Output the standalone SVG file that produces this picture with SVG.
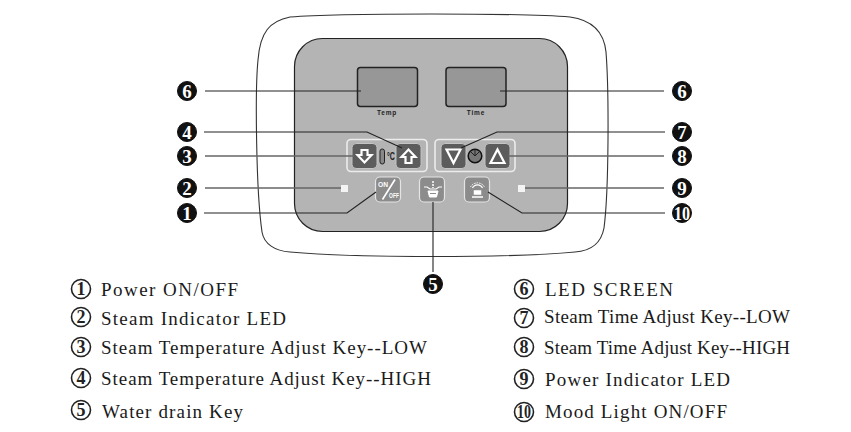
<svg xmlns="http://www.w3.org/2000/svg" width="851" height="432" viewBox="0 0 851 432">
<style>
text{font-family:"Liberation Serif",serif}
.lbl{font-size:19px;fill:#1a1a1a}
.hd{fill:#111;stroke:#111}
.hn{font-size:19px;font-weight:bold;fill:#fff;text-anchor:middle}
.cc{fill:#fff;stroke:#222;stroke-width:1.6}
.cn{font-size:18px;font-weight:bold;fill:#222;text-anchor:middle}
.grp{fill:none;stroke:#ececec;stroke-width:1.6}
.key{fill:#5c5c5c;stroke:#c4c4c4;stroke-width:1}
.skey{fill:#8c8c8c;stroke:#e4e4e4;stroke-width:1.2}
.ic{fill:none;stroke:#fff;stroke-width:2.200}
.scr{fill:#979797;stroke:#222;stroke-width:1.500}
.cap{font-family:"Liberation Sans",sans-serif;font-size:6.500px;font-weight:bold;fill:#222;text-anchor:middle;letter-spacing:.8px}
.k{fill:none;stroke:#222;stroke-width:1.100}
.g{fill:none;stroke:#666;stroke-width:1.600}
.led{fill:#f4f4f4}
.sm{font-family:"Liberation Sans",sans-serif;font-weight:bold;fill:#fff;text-anchor:middle}
</style>
<g id="housing">
<path d="M290 17C340 13 525 13 570 17C592 20 604 32 606 52C609 90 609 190 604 228C601 244 590 251 575 252C510 258 355 258 290 252C275 251 264 244 262 232C256 190 255 90 258 60C260 32 270 21 290 17Z" fill="#fff" stroke="#333" stroke-width="1.100"/>
<rect x="294.500" y="38.500" width="273" height="193" rx="28" fill="#b4b4b4" stroke="#222" stroke-width="1.200"/>
</g>
<g id="screen-temp"><rect class="scr" x="357.500" y="67.500" width="60" height="39" rx="3"/><text class="cap" x="387" y="115">Temp</text></g>
<g id="screen-time"><rect class="scr" x="446" y="67.500" width="60" height="39" rx="3"/><text class="cap" x="476" y="115">Time</text></g>
<g id="temp-keys">
<rect class="grp" x="347" y="139.500" width="80" height="32" rx="4"/>
<rect class="key" x="352" y="143.500" width="25" height="25" rx="4"/>
<path class="ic" d="M361.500 150H367.500V155H371.500L364.500 162.500L357.500 155H361.500Z"/>
<rect x="380" y="149" width="4.500" height="15" rx="2.200" fill="#888" stroke="#222"/>
<text x="391" y="160" font-size="10" font-weight="bold" fill="#222" text-anchor="middle" style="font-family:'Liberation Sans',sans-serif" textLength="8" lengthAdjust="spacingAndGlyphs">°C</text>
<rect class="key" x="396" y="143.500" width="25" height="25" rx="4"/>
<path class="ic" d="M405.500 163H411.500V157H415.500L408.500 149.500L401.500 157H405.500Z"/>
</g>
<g id="time-keys">
<rect class="grp" x="435" y="139.500" width="80" height="32" rx="4"/>
<rect class="key" x="441" y="143.500" width="25" height="25" rx="4"/>
<path class="ic" d="M446.500 149.500H460.500L453.500 163Z"/>
<circle cx="475" cy="156" r="6.800" fill="#777" stroke="#111" stroke-width="1.500"/>
<path d="M475 156V150M475 156L479 152M475 156L471 152" stroke="#222" fill="none"/>
<rect class="key" x="485" y="143.500" width="25" height="25" rx="4"/>
<path class="ic" d="M490.500 163H504.500L497.500 149.500Z"/>
</g>
<g id="on-off-key">
<rect class="skey" x="375.500" y="177" width="25" height="25" rx="4.500"/>
<text class="sm" x="383" y="187" font-size="7" textLength="10" lengthAdjust="spacingAndGlyphs">ON</text>
<text class="sm" x="394" y="198" font-size="7" textLength="10" lengthAdjust="spacingAndGlyphs">OFF</text>
<path d="M382.500 199.500L395 179.500" stroke="#fff" stroke-width="1.600" fill="none"/>
</g>
<g id="drain-key">
<rect class="skey" x="419.500" y="177" width="25" height="25" rx="4.500"/>
<path d="M424 187H427L430 189H436L439 187H442" fill="none" stroke="#fff" stroke-width="1.200"/>
<path d="M428 191H438L436.500 197H429.500Z" fill="#fff" stroke="#fff"/>
<path d="M430 193.500H436" stroke="#8c8c8c"/>
<path d="M433 181V188" stroke="#fff" stroke-width="1.500" stroke-dasharray="2 1"/>
</g>
<g id="mood-key">
<rect class="skey" x="464.500" y="177" width="25" height="25" rx="4.500"/>
<path d="M472.500 188A5.500 5.500 0 0 1 482.500 188" fill="none" stroke="#fff" stroke-width="1.200"/>
<path d="M470.500 187A8 8 0 0 1 484.500 187" fill="none" stroke="#fff" stroke-dasharray="1.500 1"/>
<path d="M474.500 194V191H480.500V194ZM472 197H483" fill="#fff" stroke="#fff" stroke-width="1.500"/>
</g>
<g id="led-steam"><rect class="led" x="341" y="185" width="7" height="7"/></g>
<g id="led-power"><rect class="led" x="518" y="185" width="7" height="7"/></g>
<g id="connectors">
<path class="k" d="M205 91H361"/>
<path class="k" d="M204 132H367L402 148"/>
<path class="g" d="M205 156H354"/>
<path class="g" d="M205 188H341"/>
<path class="k" d="M204 213H347L376 192"/>
<path class="k" d="M433 202V272"/>
<path class="k" d="M500 91H664"/>
<path class="k" d="M665 132H497L461 148"/>
<path class="g" d="M508 156H664"/>
<path class="g" d="M525 188H664"/>
<path class="k" d="M665 213H522L488 192"/>
</g>
<g id="callouts">
<circle class="hd" cx="187" cy="91" r="9.500"/><text class="hn" x="187" y="97.500">6</text>
<circle class="hd" cx="187" cy="132" r="9.500"/><text class="hn" x="187" y="138.500">4</text>
<circle class="hd" cx="187" cy="156" r="9.500"/><text class="hn" x="187" y="162.500">3</text>
<circle class="hd" cx="187" cy="188" r="9.500"/><text class="hn" x="187" y="194.500">2</text>
<circle class="hd" cx="187" cy="213" r="9.500"/><text class="hn" x="187" y="219.500">1</text>
<circle class="hd" cx="433" cy="284" r="9.500"/><text class="hn" x="433" y="290.500">5</text>
<circle class="hd" cx="682" cy="91" r="9.500"/><text class="hn" x="682" y="97.500">6</text>
<circle class="hd" cx="682" cy="132" r="9.500"/><text class="hn" x="682" y="138.500">7</text>
<circle class="hd" cx="682" cy="156" r="9.500"/><text class="hn" x="682" y="162.500">8</text>
<circle class="hd" cx="682" cy="188" r="9.500"/><text class="hn" x="682" y="194.500">9</text>
<circle class="hd" cx="682" cy="213" r="9.500"/><text class="hn" x="682" y="219.500" style="font-size:19px" textLength="16" lengthAdjust="spacingAndGlyphs">10</text>
</g>
<g id="legend">
<circle class="cc" cx="81" cy="289" r="9.500"/><text class="cn" x="81" y="295">1</text>
<circle class="cc" cx="81" cy="317" r="9.500"/><text class="cn" x="81" y="323">2</text>
<circle class="cc" cx="81" cy="347" r="9.500"/><text class="cn" x="81" y="353">3</text>
<circle class="cc" cx="81" cy="378" r="9.500"/><text class="cn" x="81" y="384">4</text>
<circle class="cc" cx="81" cy="410" r="9.500"/><text class="cn" x="81" y="416">5</text>
<text class="lbl" x="101" y="296" textLength="137">Power ON/OFF</text>
<text class="lbl" x="101" y="325" textLength="185">Steam Indicator LED</text>
<text class="lbl" x="101" y="354" textLength="326">Steam Temperature Adjust Key--LOW</text>
<text class="lbl" x="101" y="385" textLength="330">Steam Temperature Adjust Key--HIGH</text>
<text class="lbl" x="102" y="418" textLength="141">Water drain Key</text>
<circle class="cc" cx="524" cy="289" r="9.500"/><text class="cn" x="524" y="295">6</text>
<circle class="cc" cx="524" cy="318" r="9.500"/><text class="cn" x="524" y="324">7</text>
<circle class="cc" cx="524" cy="347" r="9.500"/><text class="cn" x="524" y="353">8</text>
<circle class="cc" cx="524" cy="379" r="9.500"/><text class="cn" x="524" y="385">9</text>
<circle class="cc" cx="524" cy="412" r="9.500"/><text class="cn" x="524" y="418" style="font-size:18px" textLength="14" lengthAdjust="spacingAndGlyphs">10</text>
<text class="lbl" x="545" y="296" textLength="128">LED SCREEN</text>
<text class="lbl" x="544" y="323" textLength="246">Steam Time Adjust Key--LOW</text>
<text class="lbl" x="544" y="354" textLength="246">Steam Time Adjust Key--HIGH</text>
<text class="lbl" x="545" y="386" textLength="185">Power Indicator LED</text>
<text class="lbl" x="545" y="418" textLength="182">Mood Light ON/OFF</text>
</g>
</svg>
